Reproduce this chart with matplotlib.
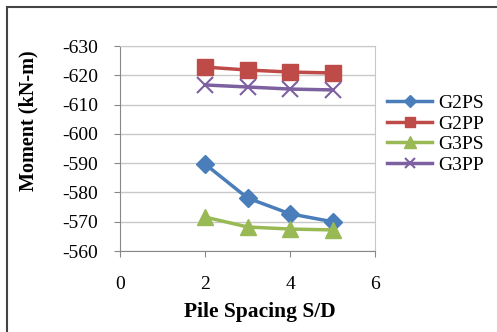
import matplotlib
matplotlib.use("Agg")
import matplotlib.pyplot as plt
from matplotlib.patches import Rectangle

spacing = [2, 3, 4, 5]
g2ps = [-589.7, -578.1, -572.7, -570.0]
g2pp = [-622.8, -621.8, -621.1, -620.8]
g3ps = [-571.6, -568.2, -567.5, -567.2]
g3pp = [-616.7, -616.0, -615.3, -615.0]
yticks = [-630, -620, -610, -600, -590, -580, -570, -560]
xticks = [0, 2, 4, 6]

plt.rcParams['font.family'] = ['Liberation Serif', 'DejaVu Serif']
plt.rcParams['axes.unicode_minus'] = False

W, H = 497, 332
fig = plt.figure(figsize=(W/100, H/100), dpi=100)
fig.patches.append(Rectangle((7/W, -0.01), 1.02, 1 - 7/H + 0.01, transform=fig.transFigure,
                             fill=False, edgecolor='#444444', linewidth=1.5))
ax = fig.add_axes([120/W, 1 - 251/H, (375-120)/W, (251-46)/H])

ax.plot(spacing, g2ps, color='#4a7ebb', marker='D', markersize=9, linewidth=2.5, label='G2PS')
ax.plot(spacing, g2pp, color='#be4b48', marker='s', markersize=11, linewidth=2.5, label='G2PP')
ax.plot(spacing, g3ps, color='#98b954', marker='^', markersize=12, linewidth=2.5, label='G3PS')
ax.plot(spacing, g3pp, color='#7d60a0', marker='x', markersize=11, markeredgewidth=1.5, linewidth=2.5, label='G3PP')

ax.set_xlim(0, 6)
ax.set_ylim(-560, -630)
ax.set_xticks(xticks)
ax.set_yticks(yticks)
ax.tick_params(labelsize=14, length=4, color='#888888')
ax.tick_params(axis='x', pad=14)
ax.tick_params(axis='y', pad=12)
ax.grid(axis='y', color='#c8c8c8', linewidth=1)
ax.set_axisbelow(True)
for s in ['top', 'right']:
    ax.spines[s].set_color('#c8c8c8')
for s in ['left', 'bottom']:
    ax.spines[s].set_color('#888888')
ax.set_xlabel('Pile Spacing S/D', fontsize=15.5, fontweight='bold')
ax.set_ylabel('Moment (kN-m)', fontsize=14.5, fontweight='bold')
ax.xaxis.set_label_coords(0.55, -0.248)
ax.yaxis.set_label_coords(-0.32, 0.638)

ax.legend(loc='center left', bbox_to_anchor=(0.98, 0.57), frameon=False, fontsize=14,
          handlelength=2.3, labelspacing=0.15, handletextpad=0.3, markerscale=0.7)

fig.savefig('out.png', dpi=100)
